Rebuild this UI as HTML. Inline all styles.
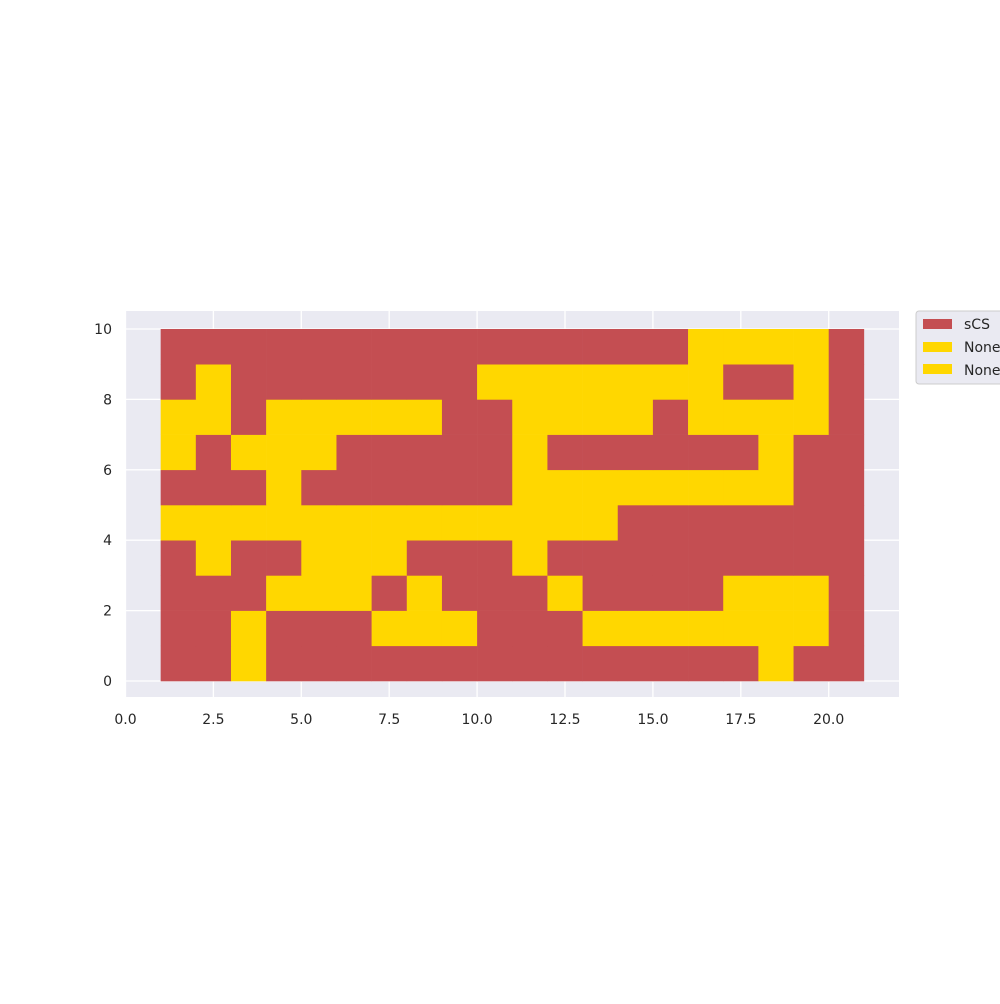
<!DOCTYPE html>
<html><head><meta charset="utf-8"><style>
body{margin:0;background:#fff;width:1000px;height:1000px;overflow:hidden;font-family:"DejaVu Sans","Liberation Sans",sans-serif}
text{font-family:"DejaVu Sans","Liberation Sans",sans-serif}
</style></head><body>
<svg id="chart" width="1000" height="1000" xmlns="http://www.w3.org/2000/svg">
<rect x="125.5" y="311" width="773.5" height="386" fill="#eaeaf2"/>
<g id="grid"></g><g id="cells"></g><g id="ticks"></g>
<g>
<rect x="916" y="311" width="100" height="73" rx="3" fill="#eaeaf2" stroke="#cccccc" stroke-width="1"/>
<rect x="923" y="319" width="29" height="10" fill="#c44e52"/>
<text x="964" y="329" font-size="14" fill="#262626">sCS</text>
<rect x="923" y="342" width="29" height="10" fill="#ffd700"/>
<text x="964" y="352" font-size="14" fill="#262626">None</text>
<rect x="923" y="364" width="29" height="10" fill="#ffd700"/>
<text x="964" y="375" font-size="14" fill="#262626">None</text>
</g>
</svg>
<script>
const rows = [ // rows from y=0 (bottom) to y=9; columns x=1..20
"RRYRRRRRRRRRRRRRRYRR",
"RRYRRRYYYRRRYYYYYYYR",
"RRRYYYRYRRRYRRRRYYYR",
"RYRRYYYRRRYRRRRRRRRR",
"YYYYYYYYYYYYYRRRRRRR",
"RRRYRRRRRRYYYYYYYYRR",
"YRYYYRRRRRYRRRRRRYRR",
"YYRYYYYYRRYYYYRYYYYR",
"RYRRRRRRRYYYYYYYRRYR",
"RRRRRRRRRRRRRRRYYYYR"
];
const xTicks = [0,2.5,5,7.5,10,12.5,15,17.5,20];
const xTickLabels = ["0.0","2.5","5.0","7.5","10.0","12.5","15.0","17.5","20.0"];
const yTicks = [0,2,4,6,8,10];
const yTickLabels = ["0","2","4","6","8","10"];
const colors = {R:"#c44e52", Y:"#ffd700"};
const ns="http://www.w3.org/2000/svg";
const X = v => 125.5 + v*35.16;
const Y = v => 681 - v*35.2;
function mk(tag, attrs, parent){const e=document.createElementNS(ns,tag);for(const k in attrs)e.setAttribute(k,attrs[k]);parent.appendChild(e);return e;}
const grid=document.getElementById('grid'), cells=document.getElementById('cells'), ticks=document.getElementById('ticks');
xTicks.forEach((t,i)=>{
  const l=mk('line',{x1:X(t),x2:X(t),y1:311,y2:697,stroke:'#fff','stroke-width':1.3},grid);
  
  
  const tx=mk('text',{x:X(t),y:724,'font-size':14,fill:'#262626','text-anchor':'middle'},ticks);
  tx.textContent=xTickLabels[i];
  
  
});
yTicks.forEach((t,i)=>{
  const l=mk('line',{x1:125.5,x2:899,y1:Y(t),y2:Y(t),stroke:'#fff','stroke-width':1.3},grid);
  
  
  const tx=mk('text',{x:112,y:Y(t)+5,'font-size':14,fill:'#262626','text-anchor':'end'},ticks);
  tx.textContent=yTickLabels[i];
  
  
});
rows.forEach((row,r)=>{
  for(let c=0;c<row.length;c++){
    const x0=X(c+1), x1=X(c+2), y0=Y(r+1), y1=Y(r);
    const e=mk('rect',{x:x0,y:y0,width:x1-x0+0.3,height:y1-y0+0.3,fill:colors[row[c]]},cells);
    
    
  }
});
</script>
</body></html>
